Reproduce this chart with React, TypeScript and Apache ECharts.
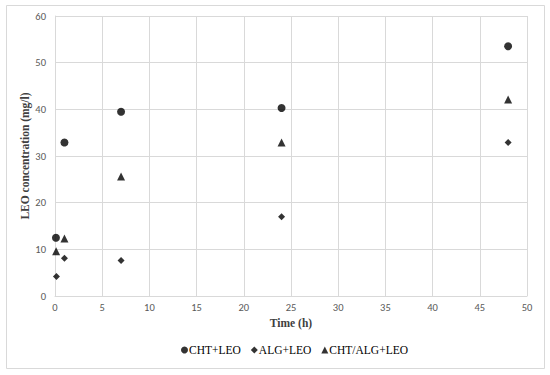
import React, { useEffect, useRef } from "react";
import * as echarts from "echarts";

const timeCHT = [0.1, 1, 7, 24, 48];
const valCHT = [12.5, 32.9, 39.5, 40.3, 53.5];
const timeALG = [0.15, 1, 7, 24, 48];
const valALG = [4.2, 8.1, 7.6, 17.0, 32.9];
const timeMix = [0.12, 1, 7, 24, 48];
const valMix = [9.6, 12.3, 25.6, 32.9, 42.1];

const seriesNames = ["CHT+LEO", "ALG+LEO", "CHT/ALG+LEO"];

const font = "Liberation Serif";
const tickFont = "Carlito, 'Liberation Sans Narrow', 'Liberation Sans', sans-serif";

export default function App() {
  const ref = useRef<HTMLDivElement>(null);
  useEffect(() => {
    document.body.style.margin = "0";
    if (!ref.current) return;
    const chart = echarts.init(ref.current, null, { renderer: "svg" });
    const pair = (xs: number[], ys: number[]) => xs.map((x, i) => [x, ys[i]]);
    chart.setOption({
      animation: false,
      backgroundColor: "#ffffff",
      textStyle: { fontFamily: font },
      graphic: [
        {
          type: "rect",
          shape: { x: 6.5, y: 5.5, width: 538, height: 363 },
          style: { fill: "none", stroke: "#d9d9d9", lineWidth: 1 },
          silent: true,
        },
      ],
      grid: { left: 55, right: 23, top: 16, bottom: 79 },
      legend: {
        top: 339,
        left: 176,
        itemWidth: 7,
        itemHeight: 7,
        itemGap: 10,
        textStyle: { fontFamily: font, fontSize: 11.5, color: "#000", padding: [0, 0, 0, -4] },
        data: [
          { name: seriesNames[0], icon: "circle" },
          { name: seriesNames[1], icon: "diamond" },
          { name: seriesNames[2], icon: "triangle" },
        ],
      },
      xAxis: {
        type: "value",
        min: 0,
        max: 50,
        interval: 5,
        name: "Time (h)",
        nameLocation: "middle",
        nameGap: 21,
        nameMoveOverlap: false,
        nameTextStyle: { fontFamily: font, fontSize: 11.5, fontWeight: "bold", color: "#404040" },
        axisLine: { show: true, lineStyle: { color: "#d9d9d9" } },
        axisTick: { show: false },
        axisLabel: { fontFamily: tickFont, fontSize: 10.5, color: "#595959", margin: 6 },
        splitLine: { show: true, lineStyle: { color: "#d9d9d9" } },
      },
      yAxis: {
        type: "value",
        min: 0,
        max: 60,
        interval: 10,
        name: "LEO concentration (mg/l)",
        nameLocation: "middle",
        nameGap: 24,
        nameMoveOverlap: false,
        nameTextStyle: { fontFamily: font, fontSize: 11.5, fontWeight: "bold", color: "#404040" },
        axisLine: { show: true, lineStyle: { color: "#d9d9d9" } },
        axisTick: { show: false },
        axisLabel: { fontFamily: tickFont, fontSize: 10.5, color: "#595959", margin: 9 },
        splitLine: { show: true, lineStyle: { color: "#d9d9d9" } },
      },
      series: [
        {
          name: seriesNames[0],
          type: "scatter",
          symbol: "circle",
          symbolSize: 8,
          itemStyle: { color: "#000" },
          data: pair(timeCHT, valCHT),
        },
        {
          name: seriesNames[1],
          type: "scatter",
          symbol: "diamond",
          symbolSize: 7,
          itemStyle: { color: "#000" },
          data: pair(timeALG, valALG),
        },
        {
          name: seriesNames[2],
          type: "scatter",
          symbol: "triangle",
          symbolSize: 8,
          itemStyle: { color: "#000" },
          data: pair(timeMix, valMix),
        },
      ],
    });
    return () => chart.dispose();
  }, []);
  return <div ref={ref} style={{ width: 550, height: 375 }} />;
}
